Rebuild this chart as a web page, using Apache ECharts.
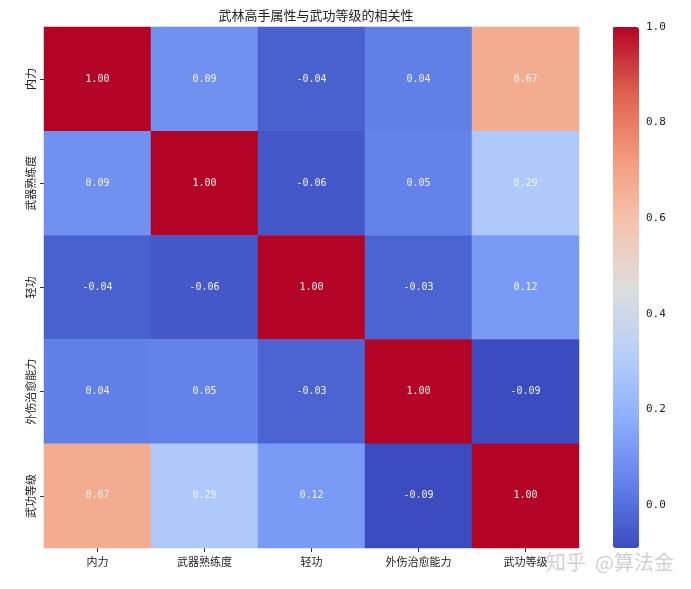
<!DOCTYPE html>
<html>
<head>
    <meta charset="utf-8" />
    <title>武林高手属性与武功等级的相关性</title>
    <script src="https://cdn.jsdelivr.net/npm/echarts@6/dist/echarts.min.js"></script>
    <style>
        html, body { margin: 0; padding: 0; background: #fff; }
        #container { width: 691px; height: 589px; }
    </style>
</head>
<body>
    <div id="container"></div>
<script>
    // 属性名称
    var attrs = ['内力', '武器熟练度', '轻功', '外伤治愈能力', '武功等级'];
    // 相关系数矩阵（按行）
    var row0 = [1.00, 0.09, -0.04, 0.04, 0.67];
    var row1 = [0.09, 1.00, -0.06, 0.05, 0.29];
    var row2 = [-0.04, -0.06, 1.00, -0.03, 0.12];
    var row3 = [0.04, 0.05, -0.03, 1.00, -0.09];
    var row4 = [0.67, 0.29, 0.12, -0.09, 1.00];
    var corr = [row0, row1, row2, row3, row4];
    // 色条刻度
    var barTicks = [0, 0.2, 0.4, 0.6, 0.8, 1.0];
    var vMin = -0.09, vMax = 1.0;

    // coolwarm
    var coolwarm = ['#3b4cc0', '#6282ea', '#8db0fe', '#b8d0f9', '#dddddd', '#f5c4ad', '#f49a7b', '#de604d', '#b40426'];

    var cells = [];
    corr.forEach(function (r, i) {
        r.forEach(function (v, j) {
            cells.push([j, i, v]);
        });
    });

    var font = '"Noto Sans CJK SC", sans-serif';
    var mono = '"DejaVu Sans Mono", monospace';
    var myChart = echarts.init(document.getElementById('container'));

    var option = {
        backgroundColor: '#fff',
        animation: false,
        title: {
            text: '武林高手属性与武功等级的相关性',
            left: 311,
            textAlign: 'center',
            top: 4,
            textStyle: { fontFamily: font, fontSize: 13, fontWeight: 'normal', color: '#222' }
        },
        grid: [
            { left: 44, top: 27, width: 535, height: 521 },
            { left: 613, top: 27, width: 26, height: 521 }
        ],
        xAxis: [
            {
                type: 'category', gridIndex: 0, data: attrs,
                axisLine: { show: false },
                axisTick: { show: true, length: 4, alignWithLabel: true, lineStyle: { color: '#333' } },
                axisLabel: { fontFamily: font, fontSize: 11, color: '#222', margin: 8 },
                splitArea: { show: false }
            },
            { type: 'value', gridIndex: 1, show: false, min: 0, max: 1 }
        ],
        yAxis: [
            {
                type: 'category', gridIndex: 0, data: attrs, inverse: true,
                axisLine: { show: false },
                axisTick: { show: true, length: 4, alignWithLabel: true, lineStyle: { color: '#333' } },
                axisLabel: { fontFamily: font, fontSize: 11, color: '#222', rotate: 90, margin: 8 }
            },
            {
                type: 'value', gridIndex: 1, position: 'right', min: vMin, max: vMax,
                splitLine: { show: false },
                axisLine: { show: false },
                axisTick: { show: true, length: 4, inside: false, customValues: barTicks, lineStyle: { color: '#333' } },
                axisLabel: {
                    fontFamily: mono, fontSize: 11, color: '#222', margin: 7,
                    customValues: barTicks,
                    formatter: function (v) { return v.toFixed(1); }
                }
            }
        ],
        visualMap: {
            type: 'continuous',
            min: vMin, max: vMax,
            calculable: false,
            seriesIndex: 0,
            orient: 'vertical',
            left: 613, top: 27,
            itemWidth: 26, itemHeight: 521,
            padding: 0,
            text: null,
            hoverLink: false,
            inRange: { color: coolwarm }
        },
        series: [
            {
                type: 'heatmap',
                xAxisIndex: 0, yAxisIndex: 0,
                data: cells,
                label: {
                    show: true,
                    color: '#f4f4f4',
                    fontFamily: mono,
                    fontSize: 10,
                    formatter: function (p) { return p.value[2].toFixed(2); }
                },
                emphasis: { disabled: true }
            },
            { type: 'line', xAxisIndex: 1, yAxisIndex: 1, data: [] }
        ],
        graphic: [
            {
                type: 'text', left: 546, top: 552,
                style: { text: '知乎  @算法金', fontFamily: font, fontSize: 20, fill: 'rgba(150,150,150,0.45)' }
            }
        ]
    };

    myChart.setOption(option);
</script>
</body>
</html>
